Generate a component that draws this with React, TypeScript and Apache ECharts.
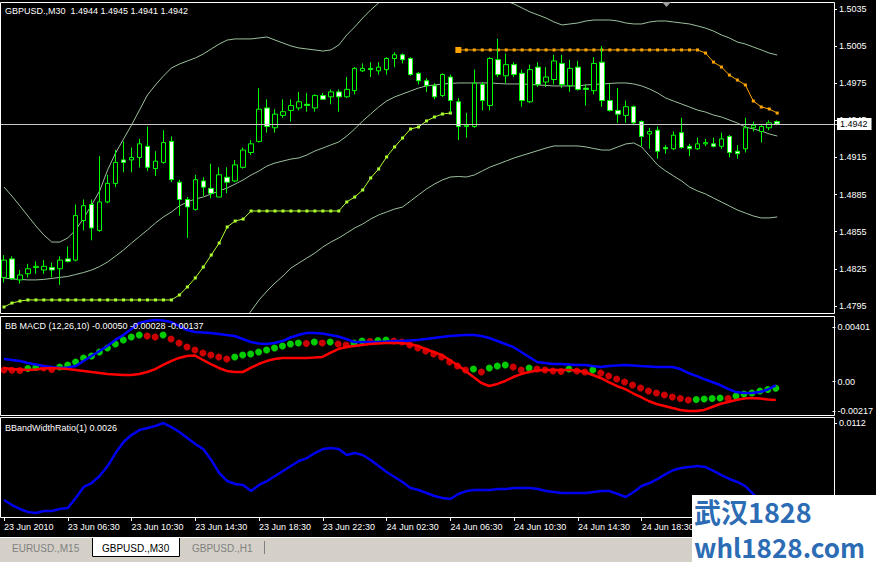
import React, { useEffect, useRef } from "react";
import * as echarts from "echarts";

const FONT = '"Liberation Sans", Arial, sans-serif';

// ---------- main pane : GBPUSD M30 candles ----------
const opens = [
  1.4818, 1.4833, 1.4816, 1.4821, 1.4826, 1.4824, 1.4826, 1.4825, 1.4833, 1.4832,
  1.4864, 1.4877, 1.4856, 1.4879, 1.4894, 1.4913, 1.4913, 1.4915, 1.4924, 1.4906,
  1.4911, 1.4928, 1.4895, 1.4881, 1.4873, 1.4896, 1.489, 1.4883, 1.4899, 1.4896,
  1.4907, 1.4919, 1.4928, 1.4955, 1.4939, 1.4949, 1.4953, 1.4955, 1.4958, 1.4955,
  1.4965, 1.4964, 1.4968, 1.4964, 1.4969, 1.4985, 1.4987, 1.4985, 1.4986, 1.4995,
  1.4998, 1.4995, 1.4983, 1.4977, 1.4973, 1.4965, 1.498, 1.496, 1.494, 1.494,
  1.4974, 1.4957, 1.4994, 1.4981, 1.499, 1.4983, 1.496, 1.4988, 1.4976, 1.4978,
  1.4991, 1.4973, 1.4988, 1.4971, 1.4969, 1.4992, 1.4961, 1.4953, 1.4949, 1.4956,
  1.4944, 1.4934, 1.4937, 1.4923, 1.4922, 1.4935, 1.4924, 1.4922, 1.4926, 1.4926,
  1.4924, 1.4932, 1.492, 1.4922, 1.4939, 1.4936, 1.4939, 1.4944,
];
const highs = [
  1.4836, 1.4835, 1.4824, 1.4829, 1.4831, 1.4832, 1.483, 1.4835, 1.4843, 1.4877,
  1.4881, 1.4881, 1.4916, 1.4901, 1.4921, 1.4928, 1.4923, 1.493, 1.494, 1.492,
  1.4937, 1.4932, 1.4897, 1.4883, 1.4901, 1.4899, 1.491, 1.4907, 1.4907, 1.4913,
  1.4923, 1.4929, 1.4971, 1.4962, 1.4954, 1.4962, 1.4962, 1.4968, 1.4967, 1.4966,
  1.4967, 1.497, 1.497, 1.498, 1.4988, 1.4991, 1.4992, 1.4992, 1.4996, 1.5,
  1.4999, 1.4996, 1.4984, 1.4979, 1.4975, 1.4983, 1.4982, 1.4963, 1.4951, 1.4986,
  1.4976, 1.4996, 1.5011, 1.4999, 1.4992, 1.4986, 1.499, 1.4992, 1.4988, 1.4998,
  1.4998, 1.4994, 1.4993, 1.4974, 1.4996, 1.5005, 1.4975, 1.4971, 1.4961, 1.4957,
  1.4945, 1.4939, 1.494, 1.4925, 1.4936, 1.4947, 1.4926, 1.4931, 1.493, 1.4931,
  1.4935, 1.4933, 1.4925, 1.4947, 1.4944, 1.4941, 1.4945, 1.4945,
];
const lows = [
  1.4814, 1.4816, 1.4813, 1.4818, 1.4821, 1.4821, 1.4818, 1.4812, 1.483, 1.4831,
  1.4856, 1.4848, 1.4855, 1.4878, 1.4891, 1.4903, 1.4903, 1.4907, 1.4904, 1.49,
  1.491, 1.4895, 1.4868, 1.485, 1.4872, 1.4884, 1.4882, 1.4883, 1.4886, 1.4895,
  1.4906, 1.4917, 1.4927, 1.4935, 1.4935, 1.4947, 1.4944, 1.4953, 1.4952, 1.4952,
  1.4962, 1.4958, 1.4952, 1.4963, 1.4966, 1.4984, 1.498, 1.4982, 1.4982, 1.4988,
  1.4991, 1.4981, 1.4974, 1.4968, 1.4962, 1.4964, 1.4951, 1.4929, 1.4931, 1.4939,
  1.4953, 1.4953, 1.498, 1.4975, 1.498, 1.4956, 1.4959, 1.4972, 1.4972, 1.4974,
  1.4971, 1.4968, 1.4969, 1.4957, 1.4966, 1.4956, 1.4952, 1.4943, 1.4943, 1.4941,
  1.4924, 1.4922, 1.4914, 1.4918, 1.4921, 1.4922, 1.4916, 1.4921, 1.4924, 1.4923,
  1.4922, 1.4915, 1.4914, 1.4919, 1.4936, 1.4927, 1.4937, 1.4941,
];
const closes = [
  1.4832, 1.4817, 1.482, 1.4825, 1.4827, 1.4827, 1.4824, 1.4832, 1.4831, 1.4868,
  1.4876, 1.4858, 1.4879, 1.4894, 1.4911, 1.4911, 1.4915, 1.4926, 1.4907, 1.4912,
  1.4927, 1.4897, 1.4881, 1.4875, 1.4897, 1.4891, 1.4886, 1.4901, 1.4895, 1.4909,
  1.4921, 1.4926, 1.4954, 1.494, 1.495, 1.4952, 1.4957, 1.496, 1.4957, 1.4965,
  1.4962, 1.4968, 1.4964, 1.497, 1.4987, 1.4987, 1.4986, 1.4988, 1.4995, 1.4998,
  1.4994, 1.4982, 1.4977, 1.4973, 1.4964, 1.4982, 1.4961, 1.494, 1.4941, 1.4975,
  1.4961, 1.4995, 1.4982, 1.499, 1.4982, 1.4961, 1.4986, 1.4974, 1.498, 1.4993,
  1.4974, 1.4987, 1.497, 1.497, 1.4991, 1.4961, 1.4953, 1.495, 1.4956, 1.4943,
  1.4932, 1.4936, 1.492, 1.4922, 1.4933, 1.4923, 1.4922, 1.4926, 1.4927, 1.4924,
  1.493, 1.4919, 1.4918, 1.4939, 1.4941, 1.494, 1.4943, 1.4942,
];

// Bollinger bands
const bbUpper = [
  1.48911, 1.48838, 1.48758, 1.48677, 1.48596, 1.48523, 1.48466, 1.48466, 1.48499, 1.48564,
  1.48661, 1.48766, 1.48879, 1.49049, 1.49186, 1.49299, 1.49412, 1.49533, 1.49655, 1.49736,
  1.49808, 1.49873, 1.49905, 1.4993, 1.49954, 1.49986, 1.50027, 1.50067, 1.50099, 1.50108,
  1.50108, 1.50108, 1.50116, 1.50124, 1.50099, 1.50075, 1.50051, 1.50035, 1.50027, 1.50019,
  1.5001, 1.50019, 1.50059, 1.5014, 1.50205, 1.50277, 1.50342, 1.50399, 1.50447, 1.50496,
  1.50536, 1.50568, 1.50593, 1.50609, 1.50625, 1.50625, 1.50625, 1.50617, 1.50601, 1.50576,
  1.50552, 1.5052, 1.50479, 1.50415, 1.5039, 1.50358, 1.50326, 1.50302, 1.50277, 1.50245,
  1.50221, 1.50229, 1.50237, 1.50253, 1.50261, 1.50261, 1.50261, 1.50253, 1.50237, 1.50229,
  1.50229, 1.50245, 1.50253, 1.50253, 1.50245, 1.50237, 1.50229, 1.50213, 1.50196, 1.50172,
  1.5014, 1.50116, 1.50083, 1.50067, 1.50043, 1.50019, 1.49994, 1.49978,
];
const bbMiddle = [
  1.48176, 1.48168, 1.48164, 1.4816, 1.4816, 1.48164, 1.48172, 1.4818, 1.48188, 1.48204,
  1.4822, 1.4824, 1.48268, 1.48305, 1.48353, 1.48402, 1.48458, 1.48511, 1.48564, 1.4862,
  1.48669, 1.48709, 1.48758, 1.4879, 1.48814, 1.4883, 1.48855, 1.48879, 1.48903, 1.48935,
  1.48968, 1.49008, 1.49041, 1.49081, 1.49105, 1.49121, 1.49137, 1.49146, 1.4917, 1.49202,
  1.49226, 1.49251, 1.49275, 1.49323, 1.4938, 1.49445, 1.49501, 1.49558, 1.49606, 1.49639,
  1.49663, 1.49687, 1.49711, 1.49728, 1.49736, 1.49744, 1.49748, 1.49752, 1.49752, 1.49752,
  1.49752, 1.49752, 1.49748, 1.49744, 1.49744, 1.49744, 1.4974, 1.49736, 1.49732, 1.49728,
  1.49728, 1.49728, 1.49728, 1.49736, 1.4974, 1.49744, 1.49748, 1.49752, 1.49752, 1.49744,
  1.49728, 1.49703, 1.49671, 1.49631, 1.49606, 1.49582, 1.49558, 1.49533, 1.49517, 1.49493,
  1.49477, 1.49453, 1.49428, 1.49396, 1.4938, 1.49364, 1.4934, 1.49323,
];
const bbLower = [
  1.4744, 1.47496, 1.47569, 1.47642, 1.47723, 1.47804, 1.47851, 1.47867, 1.47851, 1.47844,
  1.47779, 1.47715, 1.47658, 1.47561, 1.47521, 1.47505, 1.47505, 1.47488, 1.47472, 1.47505,
  1.47529, 1.47545, 1.4761, 1.4765, 1.47674, 1.47674, 1.47682, 1.47691, 1.47707, 1.47763,
  1.47828, 1.47909, 1.47998, 1.4807, 1.48135, 1.48192, 1.48256, 1.48297, 1.48337, 1.48377,
  1.48426, 1.48466, 1.48499, 1.48539, 1.4858, 1.48612, 1.48652, 1.48685, 1.48709, 1.48733,
  1.48749, 1.48798, 1.48847, 1.48895, 1.48935, 1.48968, 1.48992, 1.48996, 1.48992, 1.49008,
  1.49041, 1.49073, 1.49097, 1.49121, 1.49146, 1.49166, 1.49186, 1.49206, 1.49226, 1.49243,
  1.49243, 1.49243, 1.49243, 1.49235, 1.49222, 1.4921, 1.4921, 1.49235, 1.49259, 1.49267,
  1.49235, 1.49162, 1.49089, 1.49041, 1.49, 1.4896, 1.48911, 1.48879, 1.48855, 1.48822,
  1.4879, 1.48758, 1.48725, 1.48701, 1.48677, 1.48661, 1.48661, 1.48669,
];

// Parabolic SAR: below price for bars 0..56, above price from bar 57
const sarBelow = [
  1.47941, 1.47973, 1.47989, 1.47998, 1.47998, 1.47998, 1.47998, 1.47998, 1.47998, 1.47998,
  1.47998, 1.47998, 1.47998, 1.47998, 1.47998, 1.47998, 1.47998, 1.47998, 1.47998, 1.47998,
  1.47998, 1.47998, 1.48038, 1.48103, 1.48176, 1.48264, 1.48361, 1.48458, 1.48588, 1.48636,
  1.48652, 1.48717, 1.48717, 1.48717, 1.48717, 1.48717, 1.48717, 1.48717, 1.48717, 1.48717,
  1.48717, 1.48717, 1.48717, 1.4879, 1.4883, 1.48887, 1.48984, 1.49057, 1.49154, 1.49235,
  1.49307, 1.4938, 1.49396, 1.49445, 1.49477, 1.49501, 1.49509,
];
const SAR_FLIP = 57;
const sarAbove = [
  1.50019, 1.50019, 1.50019, 1.50019, 1.50019, 1.50019, 1.50019, 1.50019, 1.50019, 1.50019,
  1.50019, 1.50019, 1.50019, 1.50019, 1.50019, 1.50019, 1.50019, 1.50019, 1.50019, 1.50019,
  1.50019, 1.50019, 1.50019, 1.50019, 1.50019, 1.50019, 1.50019, 1.50019, 1.50019, 1.50019,
  1.50019, 1.49994, 1.49921, 1.49881, 1.49816, 1.49776, 1.49736, 1.49606, 1.49558, 1.49542,
  1.49509,
];
const currentPrice = 1.4942;
const priceTicks = [1.4795, 1.4825, 1.4855, 1.4885, 1.4915, 1.4945, 1.4975, 1.5005, 1.5035];

// ---------- BB MACD pane ----------
const macdMain = [
  0.00085, 0.00083, 0.00081, 0.00096, 0.00103, 0.001, 0.00089, 0.00107, 0.00122, 0.00144,
  0.00174, 0.00188, 0.00218, 0.00247, 0.00277, 0.00307, 0.00329, 0.00343, 0.00336, 0.00329,
  0.00343, 0.00314, 0.00284, 0.00255, 0.00233, 0.00211, 0.00196, 0.00181, 0.00166, 0.00181,
  0.00196, 0.00203, 0.00218, 0.00233, 0.00247, 0.00262, 0.00277, 0.00284, 0.00281, 0.00292,
  0.00284, 0.00292, 0.00277, 0.0027, 0.00284, 0.00299, 0.00295, 0.00303, 0.00307, 0.00299,
  0.00292, 0.0027, 0.00247, 0.00225, 0.00203, 0.00181, 0.00144, 0.00114, 0.00085, 0.00092,
  0.0007, 0.001, 0.00114, 0.00122, 0.00107, 0.00085, 0.001, 0.00092, 0.00085, 0.00078,
  0.00074, 0.00092, 0.00078, 0.0007, 0.00085, 0.00063, 0.00041, 0.00018, -0.00004, -0.00026,
  -0.00048, -0.0007, -0.00085, -0.001, -0.00114, -0.00126, -0.00137, -0.00133, -0.00129, -0.00126,
  -0.00122, -0.00126, -0.00107, -0.00092, -0.00085, -0.0007, -0.00059, -0.0005,
];
const macdUpper = [
  0.00166, 0.00159, 0.00151, 0.00137, 0.00126, 0.00114, 0.00107, 0.001, 0.00103, 0.00114,
  0.00151, 0.00188, 0.00225, 0.00262, 0.00307, 0.00343, 0.00388, 0.00432, 0.00447, 0.00454,
  0.00451, 0.00439, 0.0041, 0.0038, 0.00366, 0.00362, 0.00358, 0.00351, 0.00343, 0.00336,
  0.00314, 0.00292, 0.00281, 0.00277, 0.00284, 0.00299, 0.00325, 0.00343, 0.00358, 0.00358,
  0.00355, 0.00343, 0.00332, 0.00314, 0.00292, 0.00292, 0.00292, 0.00292, 0.00295, 0.00299,
  0.00299, 0.00303, 0.00307, 0.00314, 0.00321, 0.00329, 0.00336, 0.0034, 0.00343, 0.00343,
  0.00336, 0.00321, 0.00299, 0.00277, 0.00255, 0.00218, 0.00181, 0.00144, 0.00137, 0.00129,
  0.00129, 0.00126, 0.00122, 0.00122, 0.00114, 0.00107, 0.00114, 0.00118, 0.00122, 0.00118,
  0.00114, 0.00111, 0.00107, 0.00107, 0.00107, 0.00092, 0.00063, 0.00041, 0.00018, -0.00004,
  -0.00026, -0.00055, -0.00078, -0.00085, -0.00085, -0.00078, -0.00059, -0.00028,
];
const macdLower = [
  0.001, 0.00092, 0.00089, 0.00085, 0.00089, 0.00096, 0.001, 0.00096, 0.00092, 0.00085,
  0.00078, 0.0007, 0.00063, 0.00055, 0.00052, 0.00048, 0.00048, 0.00055, 0.0007, 0.00092,
  0.00122, 0.00151, 0.00174, 0.00188, 0.00192, 0.00159, 0.00129, 0.001, 0.00078, 0.0007,
  0.0007, 0.001, 0.00129, 0.00151, 0.00166, 0.00174, 0.00174, 0.00174, 0.00174, 0.00177,
  0.00181, 0.00211, 0.0024, 0.00255, 0.00262, 0.0027, 0.00277, 0.00281, 0.00284, 0.00284,
  0.00284, 0.00277, 0.00262, 0.0024, 0.00218, 0.00196, 0.00159, 0.00122, 0.00078, 0.00033,
  -0.00011, -0.00033, -0.00018, 0.00004, 0.00033, 0.00055, 0.0007, 0.00081, 0.00085, 0.00085,
  0.00085, 0.00085, 0.00081, 0.0007, 0.00048, 0.00026, -0.00004, -0.00033, -0.00055, -0.00085,
  -0.00114, -0.00144, -0.00166, -0.00181, -0.00196, -0.0021, -0.00218, -0.00218, -0.0021, -0.00188,
  -0.00166, -0.00151, -0.00137, -0.00126, -0.00122, -0.00126, -0.00133, -0.00137,
];
const macdTicks = [0.00401, 0, -0.00217];

// ---------- BBandWidthRatio pane ----------
const bbWidth = [
  0.00399, 0.00352, 0.00315, 0.00287, 0.00277, 0.00296, 0.00296, 0.00315, 0.00324, 0.00418,
  0.00521, 0.00558, 0.00624, 0.00717, 0.00839, 0.00942, 0.01008, 0.01054, 0.01073, 0.01092,
  0.0112, 0.01082, 0.01036, 0.00979, 0.00923, 0.00876, 0.00774, 0.00652, 0.00577, 0.00549,
  0.0054, 0.00483, 0.0054, 0.00577, 0.00624, 0.00671, 0.00717, 0.00764, 0.00792, 0.00839,
  0.00876, 0.00886, 0.00876, 0.0082, 0.00839, 0.0082, 0.00774, 0.00717, 0.00661, 0.00615,
  0.00568, 0.00512, 0.00493, 0.00465, 0.00437, 0.00418, 0.00408, 0.00455, 0.00483, 0.00493,
  0.00493, 0.00493, 0.00502, 0.00502, 0.00512, 0.00512, 0.00512, 0.00502, 0.00483, 0.00474,
  0.00465, 0.00465, 0.00465, 0.00465, 0.00474, 0.00483, 0.00483, 0.00455, 0.00427, 0.00474,
  0.0053, 0.00558, 0.00596, 0.00642, 0.0068, 0.00699, 0.00708, 0.00717, 0.00708, 0.00671,
  0.00633, 0.00596, 0.00568, 0.0053, 0.00455, 0.0038, 0.00315, 0.0026,
];
const bbwTicks = [0.0112];

// ---------- time axis ----------
const SLOT_COUNT = 105; // bar slots incl. right-hand shift space
const LABEL_EVERY = 8;
const timeLabels = [
  "23 Jun 2010", "23 Jun 06:30", "23 Jun 10:30", "23 Jun 14:30", "23 Jun 18:30", "23 Jun 22:30",
  "24 Jun 02:30", "24 Jun 06:30", "24 Jun 10:30", "24 Jun 14:30", "24 Jun 18:30",
];

export default function App() {
  const ref = useRef<HTMLDivElement>(null);

  useEffect(() => {
    if (!ref.current) return;
    const chart = echarts.init(ref.current, null, { renderer: "svg" });

    const categories = Array.from({ length: SLOT_COUNT }, (_, i) => String(i));
    const candles = opens.map((o, i) => [o, closes[i], lows[i], highs[i]]);
    const sarAboveData: any[] = [...Array(SAR_FLIP).fill(null), ...sarAbove];
    sarAboveData[SAR_FLIP] = { value: sarAbove[0], symbolSize: 6 };

    const showTick = (i: number) => i % LABEL_EVERY === 0 && i / LABEL_EVERY < timeLabels.length;

    const mkX = (g: number) => ({
      type: "category",
      gridIndex: g,
      data: categories,
      boundaryGap: true,
      axisLine: { show: false },
      splitLine: { show: false },
      axisTick:
        g === 2
          ? { show: true, interval: showTick, alignWithLabel: true, length: 4, lineStyle: { color: "#ffffff" } }
          : { show: false },
      axisLabel:
        g === 2
          ? {
              show: true,
              interval: showTick,
              formatter: (_v: string, i: number) => timeLabels[i / LABEL_EVERY] ?? "",
              align: "left",
              color: "#ffffff",
              fontSize: 9,
              fontFamily: FONT,
              margin: 5,
            }
          : { show: false },
    });

    const mkY = (g: number, min: number, max: number, ticks: number[], fmt: (v: number) => string, padding?: number[]) => ({
      type: "value",
      gridIndex: g,
      position: "right",
      offset: -3,
      min,
      max,
      axisLine: { show: false },
      splitLine: { show: false },
      axisTick: { show: true, customValues: ticks, length: 3, lineStyle: { color: "#ffffff" } },
      axisLabel: {
        show: true,
        customValues: ticks,
        formatter: fmt,
        color: "#ffffff",
        fontSize: 9,
        fontFamily: FONT,
        margin: 5,
        padding: padding ?? [0, 0, 0, 0],
      },
    });

    const bandLine = (data: number[], extra: any = {}) => ({
      type: "line",
      xAxisIndex: 0,
      yAxisIndex: 0,
      data,
      showSymbol: false,
      symbol: "none",
      lineStyle: { color: "#9cbf9c", width: 1 },
      z: 2,
      silent: true,
      ...extra,
    });

    const text = (x: number, y: number, t: string, fill = "#ffffff", size = 9, z = 100) => ({
      type: "text",
      x,
      y,
      z,
      silent: true,
      style: {
        text: t,
        fill,
        font: `${size}px ${FONT}`,
        textVerticalAlign: "middle",
        verticalAlign: "middle",
      },
    });

    const frame = (y: number, h: number) => ({
      type: "rect",
      z: 100,
      silent: true,
      shape: { x: 0.5, y, width: 834, height: h },
      style: { fill: "none", stroke: "#ffffff", lineWidth: 1 },
    });

    const option: any = {
      animation: false,
      backgroundColor: "#000000",
      grid: [
        { left: -3, top: 3, width: 840, height: 310 },
        { left: -3, top: 317, width: 840, height: 98 },
        { left: -3, top: 418, width: 840, height: 99 },
      ],
      xAxis: [mkX(0), mkX(1), mkX(2)],
      yAxis: [
        mkY(0, 1.478925, 1.503985, priceTicks, (v) => v.toFixed(4)),
        mkY(1, -0.002474, 0.004764, macdTicks, (v) => (v === 0 ? "0.00" : v.toFixed(5)), [0, 0, 4, 0]),
        mkY(2, 0.0024, 0.01167, bbwTicks, (v) => v.toFixed(4)),
      ],
      series: [
        bandLine(bbUpper),
        bandLine(bbMiddle, {
          markLine: {
            silent: true,
            symbol: "none",
            animation: false,
            precision: 4,
            data: [{ yAxis: currentPrice }],
            lineStyle: { color: "#c8c8c8", width: 1, type: "solid" },
            label: {
              show: true,
              position: "end",
              distance: 0,
              formatter: currentPrice.toFixed(4),
              color: "#000000",
              backgroundColor: "#ffffff",
              fontSize: 9,
              fontFamily: FONT,
              padding: [2, 4, 1, 3],
            },
          },
        }),
        bandLine(bbLower),
        {
          type: "line",
          xAxisIndex: 0,
          yAxisIndex: 0,
          data: sarBelow,
          symbol: "rect",
          symbolSize: 3,
          showSymbol: true,
          itemStyle: { color: "#adff2f" },
          lineStyle: { color: "#adff2f", width: 1 },
          z: 2,
          silent: true,
        },
        {
          type: "line",
          xAxisIndex: 0,
          yAxisIndex: 0,
          data: sarAboveData,
          symbol: "rect",
          symbolSize: 3,
          showSymbol: true,
          connectNulls: false,
          itemStyle: { color: "#ffa500" },
          lineStyle: { color: "#ffa500", width: 1 },
          z: 2,
          silent: true,
        },
        {
          type: "candlestick",
          xAxisIndex: 0,
          yAxisIndex: 0,
          data: candles,
          barWidth: 5,
          z: 3,
          silent: true,
          itemStyle: {
            color: "#000000",
            color0: "#ffffff",
            borderColor: "#00ff00",
            borderColor0: "#00ff00",
            borderColorDoji: "#00ff00",
            borderWidth: 1,
          },
        },
        {
          type: "scatter",
          xAxisIndex: 1,
          yAxisIndex: 1,
          data: macdMain,
          symbol: "circle",
          symbolSize: 7,
          z: 2,
          silent: true,
          itemStyle: {
            color: (p: any) => {
              const i = p.dataIndex;
              return i > 0 && macdMain[i] > macdMain[i - 1] ? "#00ff00" : "#ff0000";
            },
          },
        },
        {
          type: "line",
          xAxisIndex: 1,
          yAxisIndex: 1,
          data: macdUpper,
          symbol: "none",
          lineStyle: { color: "#0000ff", width: 2.5 },
          z: 3,
          silent: true,
        },
        {
          type: "line",
          xAxisIndex: 1,
          yAxisIndex: 1,
          data: macdLower,
          symbol: "none",
          lineStyle: { color: "#ff0000", width: 2.5 },
          z: 3,
          silent: true,
        },
        {
          type: "line",
          xAxisIndex: 2,
          yAxisIndex: 2,
          data: bbWidth,
          symbol: "none",
          lineStyle: { color: "#0000ee", width: 2.5 },
          z: 3,
          silent: true,
        },
      ],
      graphic: {
        elements: [
          frame(2.5, 311),
          frame(316.5, 99),
          frame(417.5, 100),
          {
            type: "polygon",
            z: 100,
            silent: true,
            shape: { points: [[662, 2], [671, 2], [666.5, 7]] },
            style: { fill: "#a0a0a0" },
          },
          text(5, 11, "GBPUSD.,M30\u00a0\u00a01.4944 1.4945 1.4941 1.4942"),
          text(5, 325.5, "BB MACD (12,26,10) -0.00050 -0.00028 -0.00137"),
          text(5, 428, "BBandWidthRatio(1) 0.0026"),
          // tab bar
          {
            type: "rect",
            z: 100,
            silent: true,
            shape: { x: 0, y: 537, width: 876, height: 25 },
            style: { fill: "#d4d0c8" },
          },
          {
            type: "line",
            z: 101,
            silent: true,
            shape: { x1: 0, y1: 537.5, x2: 876, y2: 537.5 },
            style: { stroke: "#ffffff", lineWidth: 1 },
          },
          {
            type: "rect",
            z: 101,
            silent: true,
            shape: { x: 92, y: 537, width: 88, height: 20 },
            style: { fill: "#ffffff" },
          },
          {
            type: "polyline",
            z: 102,
            silent: true,
            shape: { points: [[92.5, 538], [92.5, 556.5], [179.5, 556.5], [179.5, 538]] },
            style: { stroke: "#000000", fill: "none", lineWidth: 1 },
          },
          {
            type: "line",
            z: 102,
            silent: true,
            shape: { x1: 264.5, y1: 541, x2: 264.5, y2: 554 },
            style: { stroke: "#808080", lineWidth: 1 },
          },
          text(12, 548, "EURUSD.,M15", "#808080", 10, 103),
          text(102, 548, "GBPUSD.,M30", "#000000", 10, 103),
          text(192, 548, "GBPUSD.,H1", "#808080", 10, 103),
          // watermark
          {
            type: "rect",
            z: 110,
            silent: true,
            shape: { x: 692, y: 495, width: 184, height: 67 },
            style: { fill: "#ffffff" },
          },
          {
            type: "text",
            x: 694,
            y: 511,
            z: 111,
            silent: true,
            style: {
              text: "武汉1828",
              fill: "#2c6cb4",
              font: 'bold 27px "Noto Sans CJK SC", sans-serif',
              textVerticalAlign: "middle",
              verticalAlign: "middle",
            },
          },
          {
            type: "text",
            x: 694,
            y: 546,
            z: 111,
            silent: true,
            style: {
              text: "whl1828.com",
              fill: "#2c6cb4",
              font: 'bold 26px "Noto Sans CJK SC", sans-serif',
              textVerticalAlign: "middle",
              verticalAlign: "middle",
            },
          },
        ],
      },
    };

    chart.setOption(option);
    return () => chart.dispose();
  }, []);

  return (
    <div
      ref={ref}
      style={{ position: "absolute", left: 0, top: 0, width: 876, height: 562 }}
    />
  );
}
